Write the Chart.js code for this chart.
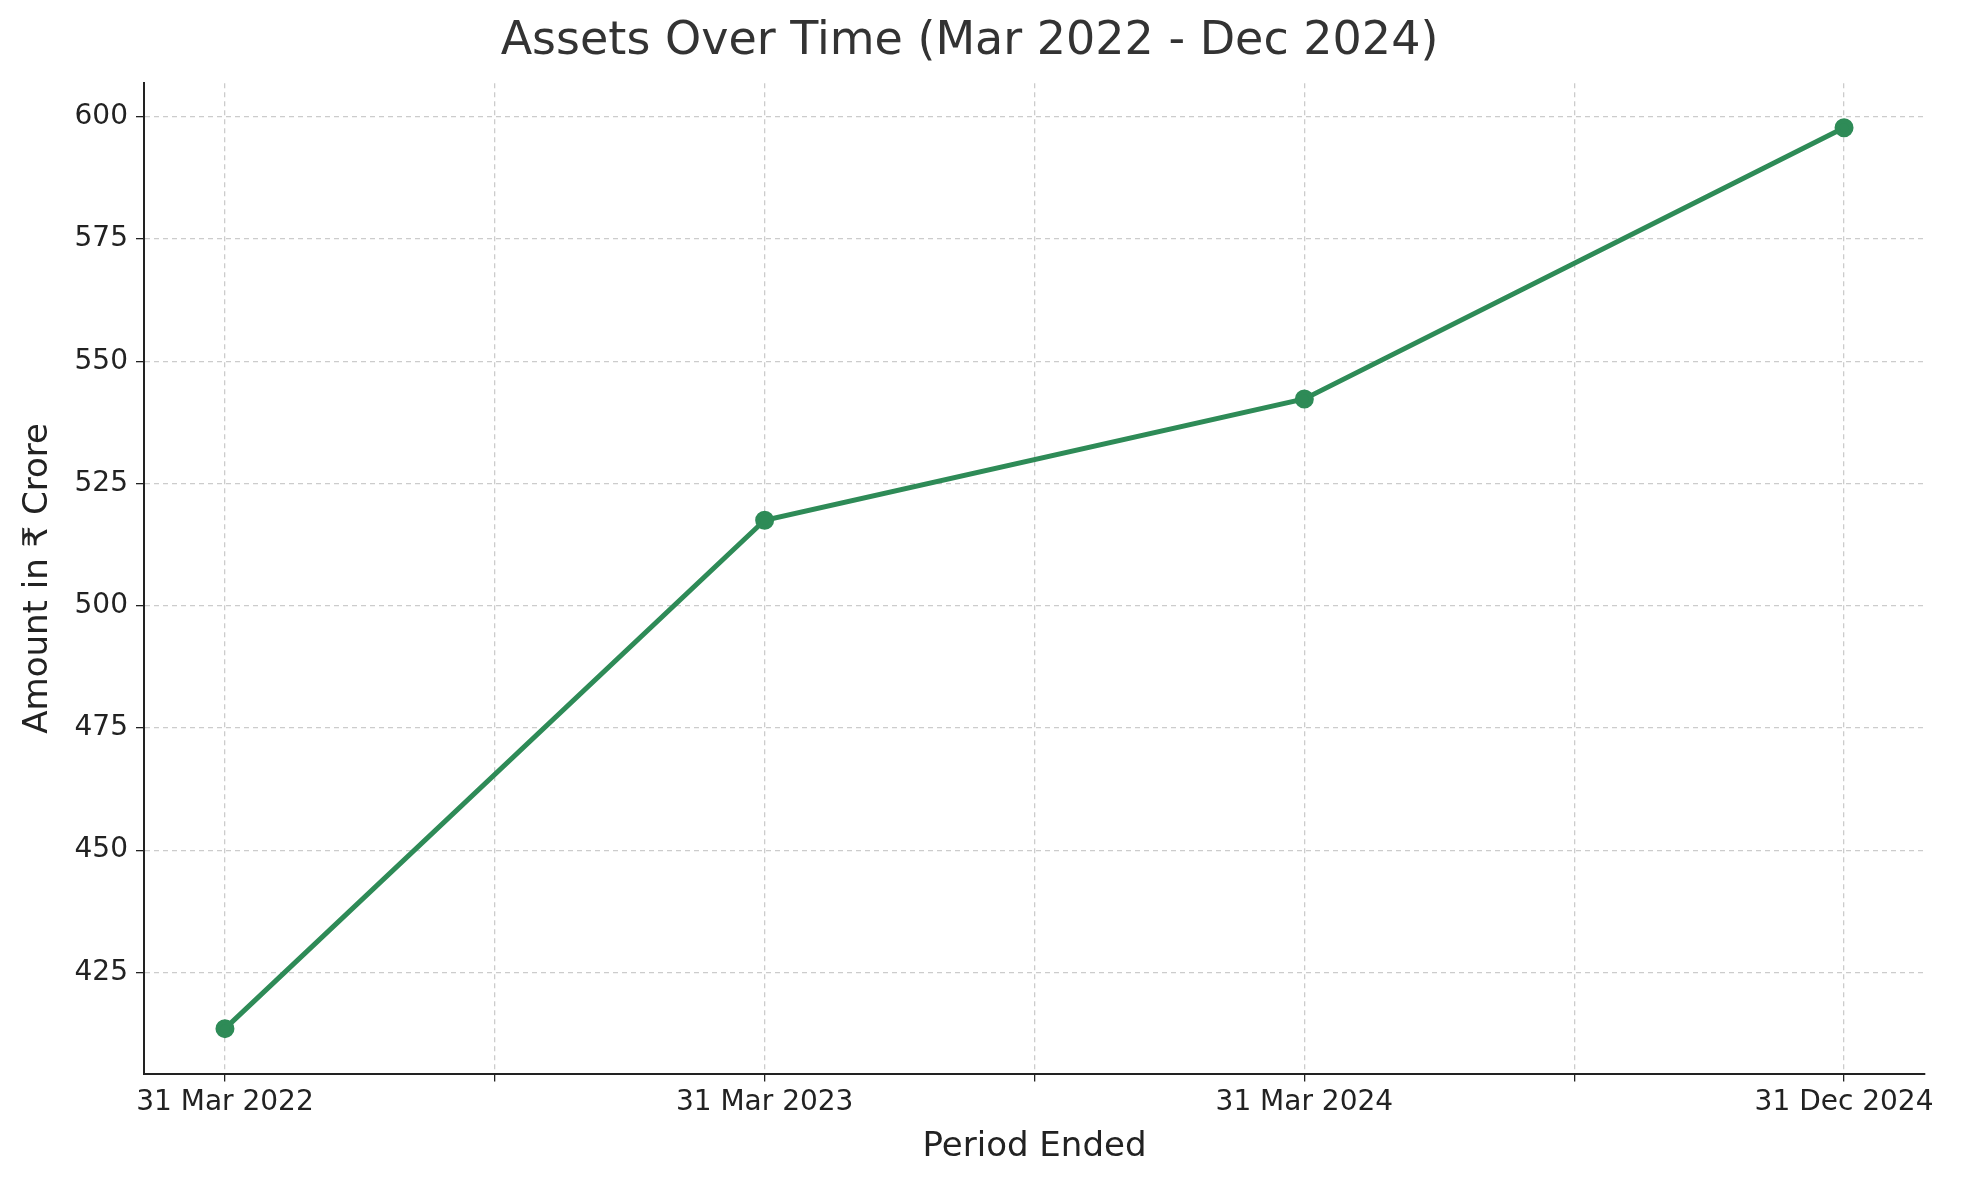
<!DOCTYPE html>
<html>
<head>
<meta charset="utf-8">
<script src="https://cdn.jsdelivr.net/npm/chart.js"></script>
<style>
  html, body { margin: 0; padding: 0; background: #fff; }
  #wrap { width: 1969px; height: 1180px; }
</style>
</head>
<body>
<div id="wrap"><canvas id="chart" width="1969" height="1180"></canvas></div>
<script>
// values
const periods = ["31 Mar 2022", "31 Mar 2023", "31 Mar 2024", "31 Dec 2024"];
const assets = [413.5, 517.5, 542.3, 597.8];
const yTicks = [425, 450, 475, 500, 525, 550, 575, 600];

const points = assets.map((v, i) => ({ x: i, y: v }));
const font = "'DejaVu Sans', sans-serif";

new Chart(document.getElementById("chart"), {
    type: "line",
    data: {
        datasets: [{
            data: points,
            borderColor: "#2e8b57",
            backgroundColor: "#2e8b57",
            borderWidth: 5,
            pointRadius: 7,
            tension: 0,
            fill: false,
        }]
    },
    options: {
        responsive: false,
        animation: false,
        layout: { padding: { top: 0, right: 44, bottom: 8, left: 14 } },
        plugins: {
            legend: { display: false },
            tooltip: { enabled: false },
            title: {
                display: true,
                text: "Assets Over Time (Mar 2022 - Dec 2024)",
                color: "#333",
                font: { family: font, size: 46, weight: "normal" },
                padding: { top: 14, bottom: 14 },
            },
        },
        scales: {
            x: {
                type: "linear",
                min: -0.15,
                max: 3.15,
                afterBuildTicks: (s) => { s.ticks = [0, 0.5, 1, 1.5, 2, 2.5, 3].map(v => ({ value: v })); },
                ticks: {
                    color: "#222",
                    font: { family: font, size: 28 },
                    maxRotation: 0,
                    autoSkip: false,
                    padding: 4,
                    callback: (v) => Number.isInteger(v) ? periods[v] : "",
                },
                grid: { color: "#cccccc", lineWidth: 1.3, tickLength: 8, tickColor: "#222" },
                border: { color: "#222", width: 2, dash: [5, 4] },
                title: {
                    display: true,
                    text: "Period Ended",
                    color: "#222",
                    font: { family: font, size: 34 },
                    padding: { top: 4 },
                },
            },
            y: {
                min: 404.3,
                max: 606.9,
                afterBuildTicks: (s) => { s.ticks = yTicks.map(v => ({ value: v })); },
                afterFit: (s) => { s.width = 130; },
                ticks: { color: "#222", font: { family: font, size: 28 }, padding: 8 },
                grid: { color: "#cccccc", lineWidth: 1.3, tickLength: 8, tickColor: "#222" },
                border: { color: "#222", width: 2, dash: [5, 4] },
                title: {
                    display: true,
                    text: "Amount in ₹ Crore",
                    color: "#222",
                    font: { family: font, size: 34 },
                    padding: { bottom: 0 },
                },
            },
        },
    },
});
</script>
</body>
</html>
